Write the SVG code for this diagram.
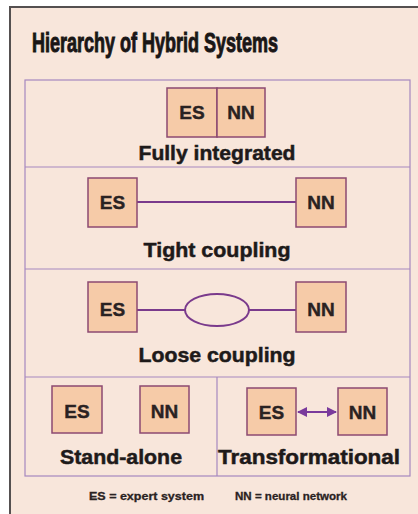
<svg xmlns="http://www.w3.org/2000/svg" width="418" height="514" viewBox="0 0 418 514">
<defs>
<style>
.box{fill:#f6cba8;stroke:#8c4a72;stroke-width:1.5}
.bt{font-family:"Liberation Sans",Arial,sans-serif;font-weight:bold;font-size:19px;fill:#2a2222;stroke:#2a2222;stroke-width:0.4;text-anchor:middle}
.lb{font-family:"Liberation Sans",Arial,sans-serif;font-weight:bold;font-size:20.5px;fill:#1e1a1a;stroke:#1e1a1a;stroke-width:0.5;text-anchor:middle}
.div{stroke:#a688bf;stroke-width:1.2;fill:none}
.con{stroke:#7a3a8c;stroke-width:2;fill:none}
</style>
<marker id="ah" viewBox="0 0 10 10" refX="9" refY="5" markerWidth="5" markerHeight="5" orient="auto-start-reverse" markerUnits="strokeWidth">
<path d="M0,0 L10,5 L0,10 z" fill="#7a3a9c"/>
</marker>
</defs>
<rect x="0" y="0" width="418" height="514" fill="#ffffff"/>
<rect x="10" y="7" width="420" height="520" fill="#f8e6db" stroke="#555050" stroke-width="2"/>
<text x="32" y="52" font-family="'Liberation Sans',Arial,sans-serif" font-weight="bold" font-size="28" fill="#1a1616" stroke="#1a1616" stroke-width="1" textLength="246" lengthAdjust="spacingAndGlyphs">Hierarchy of Hybrid Systems</text>
<g id="panel">
<rect x="25" y="80" width="385" height="396" fill="#f9eae1" class="div"/>
<line x1="25" y1="167" x2="410" y2="167" class="div"/>
<line x1="25" y1="269" x2="410" y2="269" class="div"/>
<line x1="25" y1="377" x2="410" y2="377" class="div"/>
<line x1="217" y1="377" x2="217" y2="476" class="div"/>
</g>
<g id="connectors">
<line x1="137" y1="202" x2="296" y2="202" class="con"/>
<line x1="137" y1="310" x2="185" y2="310" class="con"/>
<line x1="249" y1="310" x2="296" y2="310" class="con"/>
<ellipse cx="217" cy="310" rx="32" ry="16" fill="#f9eae1" class="con"/>
<line x1="298" y1="412" x2="336" y2="412" stroke="#7a3a9c" stroke-width="2" marker-start="url(#ah)" marker-end="url(#ah)"/>
</g>
<g id="fully-integrated">
<rect x="167" y="88" width="50" height="49" class="box"/>
<rect x="217" y="88" width="48" height="49" class="box"/>
<text x="192" y="119" class="bt">ES</text>
<text x="241" y="119" class="bt">NN</text>
<text x="217" y="160" class="lb" textLength="157" lengthAdjust="spacingAndGlyphs">Fully integrated</text>
</g>
<g id="tight-coupling">
<rect x="88" y="178" width="49" height="49" class="box"/>
<rect x="296" y="178" width="50" height="49" class="box"/>
<text x="112.5" y="209" class="bt">ES</text>
<text x="321" y="209" class="bt">NN</text>
<text x="217" y="257" class="lb" textLength="147" lengthAdjust="spacingAndGlyphs">Tight coupling</text>
</g>
<g id="loose-coupling">
<rect x="88" y="282" width="49" height="50" class="box"/>
<rect x="296" y="282" width="50" height="50" class="box"/>
<text x="112.5" y="316" class="bt">ES</text>
<text x="321" y="316" class="bt">NN</text>
<text x="217" y="362" class="lb" textLength="157" lengthAdjust="spacingAndGlyphs">Loose coupling</text>
</g>
<g id="stand-alone">
<rect x="52" y="386" width="50" height="47" class="box"/>
<rect x="140" y="386" width="49" height="47" class="box"/>
<text x="77" y="418" class="bt">ES</text>
<text x="164.5" y="418" class="bt">NN</text>
<text x="121" y="464" class="lb" textLength="122" lengthAdjust="spacingAndGlyphs">Stand-alone</text>
</g>
<g id="transformational">
<rect x="247" y="388" width="49" height="47" class="box"/>
<rect x="338" y="388" width="49" height="47" class="box"/>
<text x="271.5" y="419" class="bt">ES</text>
<text x="362.5" y="419" class="bt">NN</text>
<text x="309" y="464" class="lb" textLength="182" lengthAdjust="spacingAndGlyphs">Transformational</text>
</g>
<g id="legend" font-family="'Liberation Sans',Arial,sans-serif" font-weight="bold" font-size="11" fill="#2a2222" stroke="#2a2222" stroke-width="0.3">
<text x="89" y="500" textLength="115" lengthAdjust="spacingAndGlyphs">ES = expert system</text>
<text x="235" y="500" textLength="112" lengthAdjust="spacingAndGlyphs">NN = neural network</text>
</g>
</svg>
